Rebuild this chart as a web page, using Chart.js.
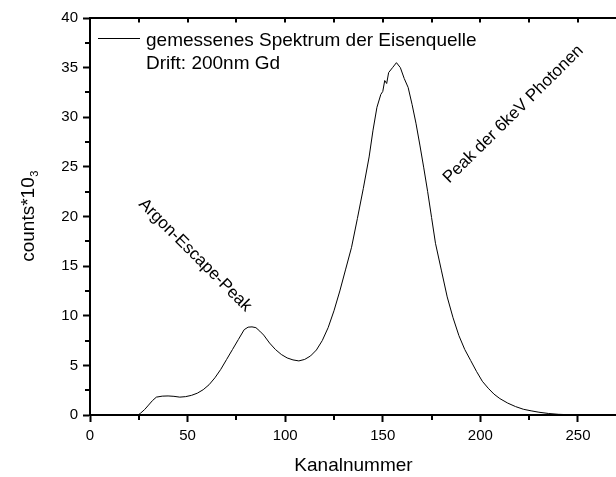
<!DOCTYPE html>
<html>
<head>
<meta charset="utf-8">
<script src="https://cdn.jsdelivr.net/npm/chart.js@4/dist/chart.umd.min.js"></script>
<style>
  html, body { margin: 0; padding: 0; background: #fff; overflow: hidden; }
  #wrap { position: absolute; left: 0; top: 0; width: 640px; height: 477px; }
</style>
</head>
<body>
<div id="wrap"><canvas id="c"></canvas></div>
<script>
// Fe-55 spectrum measured with a 200 nm Gd drift electrode
const channels = [0, 24, 25, 26, 28, 30, 32, 34, 37, 40, 43, 46, 49, 52, 55, 58, 61, 64, 67, 70,
  73, 76, 79, 81, 83, 85, 87, 89, 92, 95, 98, 101, 104, 107, 110, 113, 116, 119, 122, 125,
  128, 131, 134, 137, 140, 143, 145, 147, 149, 150, 151, 152, 153, 155, 157, 159, 161, 163, 165, 167,
  169, 171, 173, 175, 177, 180, 183, 186, 189, 192, 195, 198, 201, 204, 207, 210, 214, 218, 222, 226,
  230, 235, 240, 245, 250, 255, 270];
const counts = [0, 0, 0.05, 0.2, 0.55, 1.0, 1.45, 1.8, 1.9, 1.92, 1.88, 1.8, 1.85, 1.98, 2.2, 2.55, 3.05, 3.75, 4.6, 5.6,
  6.6, 7.6, 8.6, 8.85, 8.88, 8.8, 8.45, 8.05, 7.25, 6.6, 6.1, 5.75, 5.55, 5.45, 5.6, 5.95, 6.55, 7.5, 8.8, 10.5,
  12.5, 14.7, 16.9, 19.8, 22.8, 26.0, 28.7, 31.0, 32.3, 32.6, 33.7, 33.4, 34.5, 35.0, 35.5, 35.0, 33.9, 33.0, 31.3, 29.4,
  27.2, 24.9, 22.5, 19.9, 17.3, 14.6, 11.9, 9.8, 8.0, 6.6, 5.5, 4.4, 3.4, 2.7, 2.1, 1.65, 1.2, 0.85, 0.58, 0.42,
  0.28, 0.15, 0.07, 0.03, 0.01, 0, 0];

const xTickValues = [0, 50, 100, 150, 200, 250];
const xMinorValues = [25, 75, 125, 175, 225];
const xTopTickValues = [25, 50, 75, 100, 125, 150, 175, 200, 225, 250];
const yTickValues = [0, 5, 10, 15, 20, 25, 30, 35, 40];
const yMinorValues = [2.5, 7.5, 12.5, 17.5, 22.5, 27.5, 32.5, 37.5];

const legendLines = ['gemessenes Spektrum der Eisenquelle', 'Drift: 200nm Gd'];
const notes = [
  { text: 'Argon-Escape-Peak', x: 53.8, y: 16.1, angle: 45 },
  { text: 'Peak der 6keV Photonen', x: 216.9, y: 30.3, angle: -44.5 }
];

const FONT = '"Liberation Sans", Arial, Helvetica, sans-serif';

const decorations = {
  id: 'decorations',
  afterDraw(chart) {
    const ctx = chart.ctx;
    const a = chart.chartArea;
    const xs = chart.scales.x, ys = chart.scales.y;
    ctx.save();
    ctx.strokeStyle = '#000';
    ctx.fillStyle = '#000';

    // top frame line with inward ticks
    ctx.lineWidth = 2;
    ctx.beginPath();
    ctx.moveTo(a.left - 1, a.top);
    ctx.lineTo(a.right + 1, a.top);
    ctx.stroke();
    ctx.beginPath();
    xTopTickValues.forEach(v => {
      const px = Math.round(xs.getPixelForValue(v));
      ctx.moveTo(px, a.top);
      ctx.lineTo(px, a.top + 4.5);
    });
    // minor ticks on bottom and left axes
    xMinorValues.forEach(v => {
      const px = Math.round(xs.getPixelForValue(v));
      ctx.moveTo(px, a.bottom);
      ctx.lineTo(px, a.bottom + 5);
    });
    yMinorValues.forEach(v => {
      const py = Math.round(ys.getPixelForValue(v));
      ctx.moveTo(a.left, py);
      ctx.lineTo(a.left - 5, py);
    });
    ctx.stroke();

    // legend
    const ds = chart.data.datasets[0];
    ctx.lineWidth = ds.borderWidth;
    ctx.strokeStyle = ds.borderColor;
    ctx.beginPath();
    ctx.moveTo(a.left + 8, a.top + 20.5);
    ctx.lineTo(a.left + 50, a.top + 20.5);
    ctx.stroke();
    ctx.font = '19px ' + FONT;
    ctx.textAlign = 'left';
    ctx.textBaseline = 'alphabetic';
    legendLines.forEach((t, i) => ctx.fillText(t, a.left + 56, a.top + 28 + i * 23));

    // y axis title
    ctx.save();
    ctx.translate(33.5, (a.top + a.bottom) / 2);
    ctx.rotate(-Math.PI / 2);
    ctx.font = '19px ' + FONT;
    const main = 'counts*10';
    const w = ctx.measureText(main).width;
    ctx.font = '11px ' + FONT;
    const w3 = ctx.measureText('3').width;
    const start = -(w + w3) / 2;
    ctx.font = '19px ' + FONT;
    ctx.textAlign = 'left';
    ctx.fillText(main, start, 0);
    ctx.font = '11px ' + FONT;
    ctx.fillText('3', start + w + 0.5, 4);
    ctx.restore();

    // peak annotations
    ctx.font = '17px ' + FONT;
    ctx.textAlign = 'center';
    ctx.textBaseline = 'middle';
    notes.forEach(n => {
      ctx.save();
      ctx.translate(xs.getPixelForValue(n.x), ys.getPixelForValue(n.y));
      ctx.rotate(n.angle * Math.PI / 180);
      ctx.fillText(n.text, 0, 0);
      ctx.restore();
    });
    ctx.restore();
  }
};

new Chart(document.getElementById('c'), {
  type: 'scatter',
  data: {
    datasets: [{
      label: legendLines.join(' '),
      data: channels.map((c, i) => ({ x: c, y: counts[i] })),
      showLine: true,
      borderColor: '#000',
      borderWidth: 1,
      pointRadius: 0,
      tension: 0
    }]
  },
  options: {
    responsive: true,
    maintainAspectRatio: false,
    animation: false,
    events: [],
    layout: { padding: { left: 0, top: 18, right: 23, bottom: 0 } },
    plugins: { legend: { display: false }, tooltip: { enabled: false } },
    scales: {
      x: {
        type: 'linear',
        position: 'bottom',
        min: 0,
        max: 270,
        afterBuildTicks: s => { s.ticks = xTickValues.map(v => ({ value: v })); },
        afterFit: s => { s.height = 62; },
        border: { display: true, color: '#000', width: 2 },
        grid: { drawOnChartArea: false, drawTicks: true, tickLength: 7, tickWidth: 2, tickColor: '#000' },
        ticks: { color: '#000', font: { family: FONT, size: 15 }, padding: 5, maxRotation: 0 },
        title: { display: true, text: 'Kanalnummer', color: '#000', font: { family: FONT, size: 19 }, padding: { top: 0, bottom: 0 } }
      },
      y: {
        type: 'linear',
        position: 'left',
        min: 0,
        max: 40,
        afterBuildTicks: s => { s.ticks = yTickValues.map(v => ({ value: v })); },
        afterFit: s => { s.width = 90; },
        border: { display: true, color: '#000', width: 2 },
        grid: { drawOnChartArea: false, drawTicks: true, tickLength: 7, tickWidth: 2, tickColor: '#000' },
        ticks: { color: '#000', font: { family: FONT, size: 15 }, padding: 5 }
      }
    }
  },
  plugins: [decorations]
});
</script>
</body>
</html>
